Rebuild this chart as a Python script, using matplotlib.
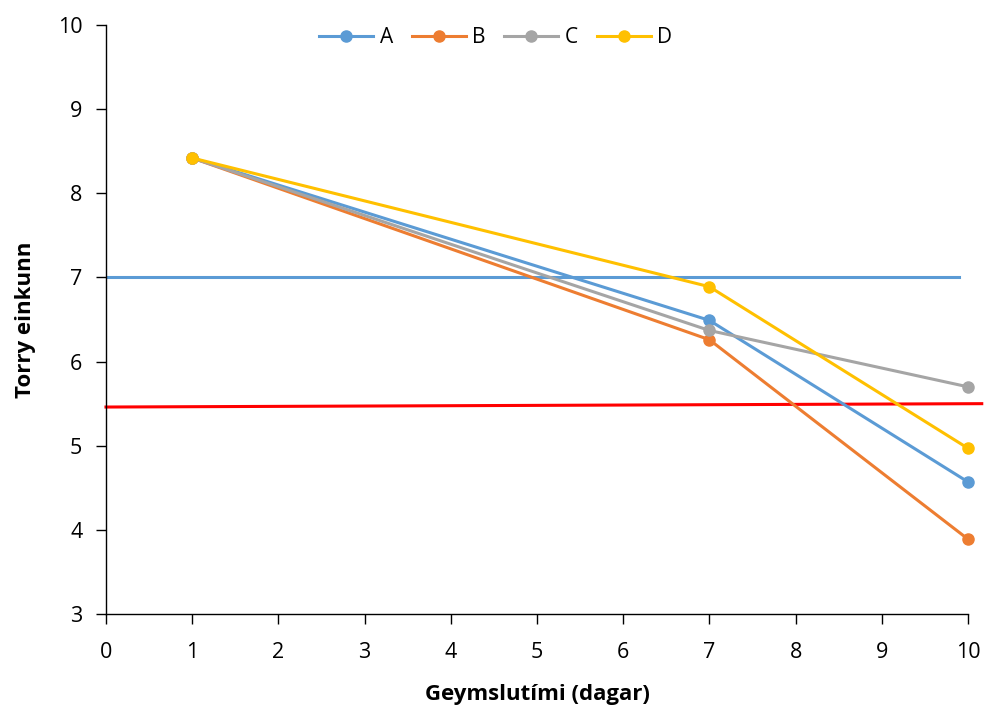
import matplotlib.pyplot as plt

days = [1, 7, 10]
series_names = ["A", "B", "C", "D"]
series_values = [
    [8.42, 6.49, 4.57],
    [8.42, 6.26, 3.89],
    [8.42, 6.37, 5.70],
    [8.42, 6.89, 4.97],
]
colors = ["#5B9BD5", "#ED7D31", "#A5A5A5", "#FFC000"]

# reference lines
blue_x = [0, 9.9]
blue_y = [7.0, 7.0]
red_x = [0, 10.16]
red_y = [5.46, 5.50]

x_ticks = list(range(0, 11))
y_ticks = list(range(3, 11))

plt.rcParams.update({"font.family": ["Open Sans", "DejaVu Sans"], "font.size": 13})

fig = plt.figure(figsize=(9.84, 7.11), dpi=100)
ax = fig.add_axes([0.1077, 0.1364, 0.876, 0.8284])

ax.plot(blue_x, blue_y, color="#5B9BD5", lw=2.2, zorder=1)
ax.plot(red_x, red_y, color="#FF0000", lw=2.2, zorder=1, clip_on=False)

for name, vals, c in zip(series_names, series_values, colors):
    ax.plot(days, vals, color=c, lw=2.2, marker="o", markersize=8,
            label=name, zorder=3, clip_on=False)

ax.set_xlim(0, 10)
ax.set_ylim(3, 10)
ax.set_xticks(x_ticks)
ax.set_yticks(y_ticks)
for s in ("top", "right"):
    ax.spines[s].set_visible(False)
for s in ("left", "bottom"):
    ax.spines[s].set_color("black")
    ax.spines[s].set_linewidth(1.0)
ax.tick_params(direction="out", length=7, width=1, colors="black",
               labelsize=15.5)
ax.tick_params(axis="x", pad=13)
ax.tick_params(axis="y", pad=10)

ax.set_xlabel("Geymslutími (dagar)", fontsize=16, weight="bold", labelpad=15)
ax.set_ylabel("Torry einkunn", fontsize=16, weight="bold", labelpad=16)

ax.legend(loc="center", bbox_to_anchor=(0.452, 0.978), ncol=4,
          frameon=False, fontsize=15, handlelength=2.6, handletextpad=0.3,
          columnspacing=0.9)

fig.savefig("out.png", dpi=100)
